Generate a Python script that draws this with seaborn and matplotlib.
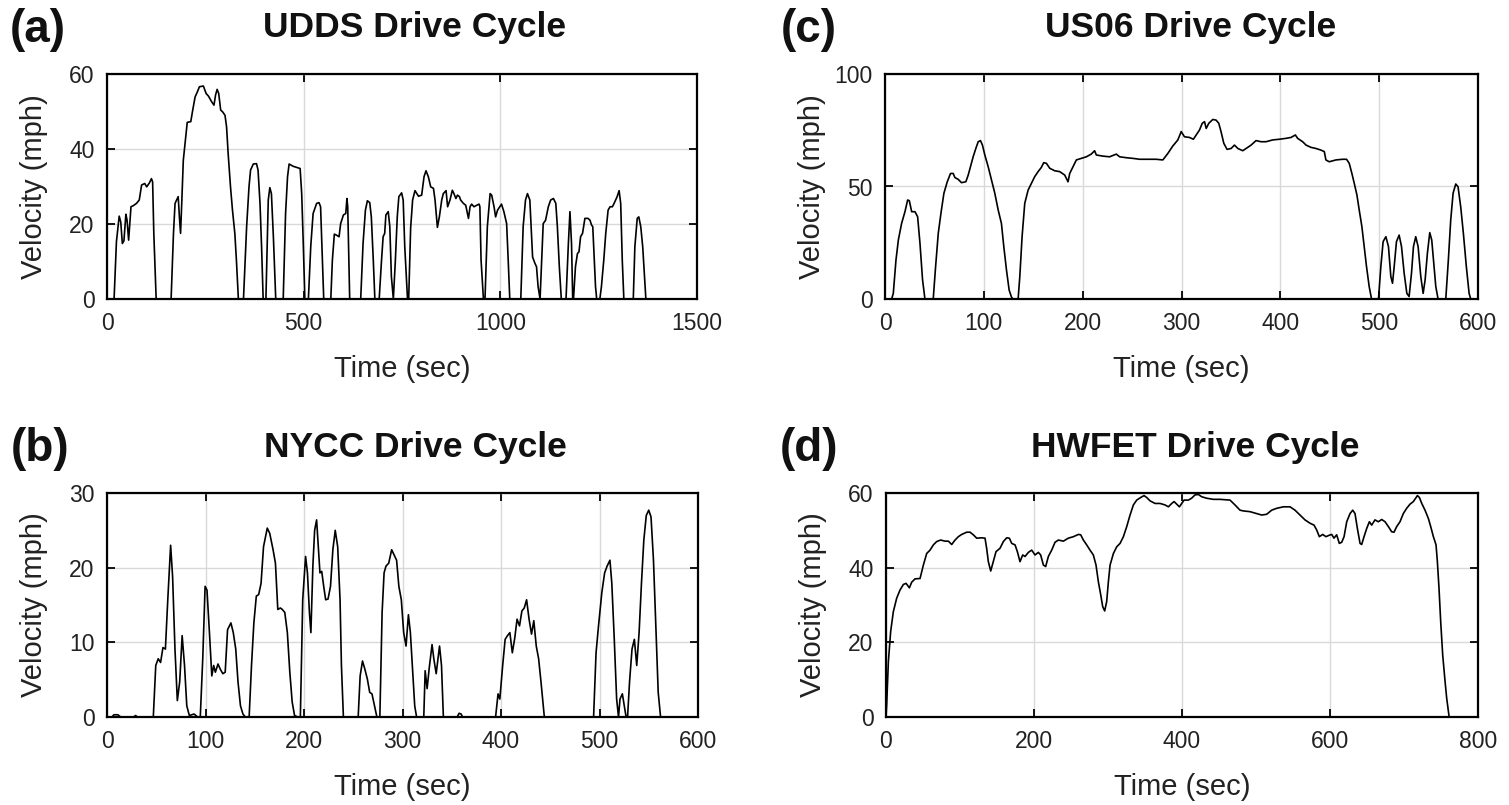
import matplotlib
matplotlib.use('Agg')
import matplotlib.pyplot as plt
import pandas as pd
import seaborn as sns

# ---------------- data ----------------
udds_t = [0, 18, 20, 24, 31, 35, 39, 43, 48, 51, 55, 61, 67, 75, 82, 88, 96, 101, 108, 113, 116, 119, 125,
          163, 169, 173, 177, 181, 184, 187, 190, 194, 201, 204, 213, 218, 224, 230, 235, 245, 252, 258, 266,
          272, 276, 280, 284, 289, 294, 300, 304, 308, 314, 319, 325, 329, 334,
          347, 355, 361, 365, 372, 380, 384, 389, 393, 397, 404, 410, 414, 418, 423, 429,
          448, 454, 459, 463, 473, 482, 491, 495, 499, 503, 512, 518, 524, 533, 539, 543, 547, 551,
          569, 573, 578, 584, 590, 594, 601, 607, 610, 612, 615, 617, 645, 651, 657, 662, 668, 672, 677, 681,
          692, 698, 702, 706, 709, 715, 719, 723, 728, 733, 738, 742, 749, 753, 757, 764, 767, 772, 777, 783,
          792, 800, 806, 811, 817, 823, 830, 834, 840, 845, 851, 855, 862, 866, 872, 878, 882, 887, 891, 896,
          899, 906, 912, 919, 923, 927, 933, 940, 946, 948, 951, 957, 961, 967, 974, 978, 984, 988, 993, 1003,
          1009, 1016, 1020, 1024, 1052, 1058, 1064, 1069, 1075, 1079, 1082, 1088, 1092, 1096, 1101, 1109, 1115,
          1122, 1128, 1135, 1141, 1145, 1150, 1155, 1167, 1173, 1177, 1181, 1184, 1186, 1191, 1196, 1200, 1204,
          1209, 1215, 1223, 1228, 1232, 1235, 1239, 1242, 1245, 1253, 1257, 1263, 1268, 1274, 1279, 1285, 1291,
          1297, 1302, 1306, 1310, 1314, 1338, 1342, 1348, 1352, 1357, 1362, 1366, 1370]
udds_v = [0, 0, 5, 15.3, 22.1, 20.5, 14.8, 15.5, 22.6, 21, 15.7, 24.6, 24.9, 25.5, 26.4, 30.4, 30.8, 29.9, 31, 32.1, 31.2, 17.5, 0,
          0, 17.5, 25.5, 26.4, 27.3, 22, 17.5, 25.5, 37, 44.1, 47.1, 47.3, 50.4, 53.9, 55.3, 56.6, 56.8, 54.8, 54.1, 52.6,
          51.7, 54.4, 55.9, 54.8, 50.4, 49.9, 49, 45.9, 38.8, 29.9, 23.7, 17.5, 10.4, 0,
          0, 19.3, 29.9, 34.4, 36, 36.1, 34.4, 25.5, 13.9, 0, 0, 26.4, 29.7, 28.1, 16.6, 0,
          0, 22.8, 32.6, 36, 35.4, 35.1, 34.8, 28.1, 14.8, 0, 0, 14, 22.8, 25.5, 25.7, 24.6, 12.1, 0,
          0, 10.4, 17.3, 17, 16.6, 20.1, 22.4, 22.8, 26.8, 24.6, 10.4, 0, 0, 14.8, 23.7, 26.2, 25.7, 21.9, 10.4, 0,
          0, 10.4, 16.6, 17.5, 22.4, 23.3, 19.3, 6, 0, 10, 22, 27.3, 28.3, 26.4, 14, 0, 0, 19, 26.4, 28.9,
          27.4, 27.7, 32.6, 34.2, 32.6, 29.9, 29.5, 26.4, 19.1, 21.9, 26.4, 28.1, 28.9, 24.6, 26.4, 29, 28.1, 26.8, 27.7, 27.3,
          26.4, 25.5, 25, 21.5, 24.6, 25.3, 24.6, 25, 25.3, 24.6, 10.4, 0, 0, 19.3, 28.1, 27.7, 24.6, 21.9, 23.7, 25.3,
          23.3, 20.1, 10.4, 0, 0, 19.3, 26.4, 28.1, 26.4, 17.5, 11.2, 9.5, 8.6, 3.3, 0, 20.1, 21,
          24.6, 26.4, 26.8, 25.5, 19.3, 8.6, 0, 0, 14.8, 23.3, 14.8, 0, 0, 8.6, 12.1, 12.6, 16.6,
          17.5, 21.5, 21.5, 21, 19.7, 19.3, 10.4, 3.3, 0, 0, 3.3, 10.4, 17.5, 23.7, 24.6, 24.6, 25.9,
          27.3, 28.9, 25.5, 10.4, 0, 0, 13.9, 21.5, 21.9, 19.3, 13.9, 6.8, 0]

nycc_t = [0, 5, 7, 11, 14, 27, 29, 31, 47, 49.5, 52, 54.4, 56.8, 59.3, 61.7, 64.6, 66.6, 69, 71.4, 73.8, 76.3,
          78.7, 81, 83.6, 88.4, 92, 94.7, 97.2, 99.6, 101.5, 104, 106.4, 108.3, 110, 112.7, 115, 117.6, 120,
          122.4, 125.8, 128.2, 130.7, 133, 135.5, 138, 140.4, 144.3, 146.7, 149.1, 151.6, 154, 156.4, 158.9,
          162.7, 165.2, 168.6, 171, 173.4, 176, 178, 180.5, 183.1, 185.6, 188, 190.4, 193.8, 196.3, 198.7,
          201.6, 203.5, 205.5, 207, 209, 210.8, 212.8, 214.7, 216.2, 218, 220, 222, 224.4, 226.9, 229.3, 231.7,
          234.2, 236.6, 238, 240, 255, 257, 259.4, 261.8, 264.3, 266.7, 269, 271.6, 274, 277, 279.3, 281.3,
          283.2, 286, 289, 291.5, 294, 296.3, 298.8, 301.2, 303.6, 306, 308, 310.4, 312.4, 314.3, 321.6, 323,
          325, 327, 330, 331.8, 334.2, 337.6, 339.6, 341.5, 355.5, 357.5, 359.5, 361, 394.5, 397, 398.8, 401.7,
          404.2, 406.6, 409, 411.5, 414, 416.3, 418.8, 421.2, 423.6, 426, 428.5, 431, 433.3, 435.8, 438.2,
          440.6, 444, 494, 496.5, 499, 502.3, 505.2, 507.7, 510.6, 512.5, 515, 517.4, 519.3, 520.8, 523.2,
          525.6, 527, 528.5, 530.5, 533, 535.4, 537.8, 540.2, 542.6, 545, 547.5, 550, 552.3, 554.8, 557.2,
          559.6, 562, 598]
nycc_v = [0, 0, 0.3, 0.3, 0, 0, 0.2, 0, 0, 6.9, 7.8, 7.3, 9.3, 9.1, 15.7, 23, 18.8, 9.1, 2.2, 4.7, 10.9,
          6.9, 1.5, 0.2, 0.4, 0, 0, 7.8, 17.5, 17, 11.3, 5.5, 6.9, 6, 7.1, 6.4, 5.8, 6,
          11.7, 12.6, 11.3, 9.1, 4.7, 1.5, 0.4, 0, 0, 6.9, 12.6, 16.2, 16.4, 17.9, 22.8,
          25.3, 24.6, 22.4, 20.6, 14.4, 14.6, 14.4, 14, 11.3, 6, 2, 0.2, 0, 0, 15.7,
          21.5, 19.3, 14, 11.3, 20.2, 25, 26.4, 22.4, 19.3, 19.5, 17.5, 15.7, 15.8, 17.5, 22.4, 25,
          22.8, 15.7, 6.9, 0, 0, 5.5, 7.5, 6.4, 5.1, 3.3, 3.1, 1.5, 0, 0, 14, 19.3,
          20.2, 20.6, 22.4, 21.7, 21, 17.5, 15.7, 11.3, 9.5, 13.7, 11.3, 6, 1.5, 0, 0, 6.2,
          3.8, 6.4, 9.7, 7.8, 5.8, 9.5, 6.9, 0, 0, 0.5, 0.4, 0, 0, 3.1, 2.4, 6.9,
          10.4, 10.9, 11.3, 8.6, 10.6, 13.1, 12.2, 14.2, 14.6, 15.7, 13.1, 11.1, 12.9, 9.5, 7.8,
          4.7, 0, 0, 8.6, 12.2, 16.6, 19.3, 20.2, 21, 17.9, 10.4, 2.4, 0, 2.4, 3.1,
          1.1, 0, 0, 4.7, 9.1, 10.4, 6.9, 11.3, 17.9, 23.7, 27, 27.7, 26.8, 21, 12.2,
          3.3, 0, 0]

us06_t = [0, 6.7, 8.4, 11.1, 13.5, 16.8, 20.2, 22.9, 24.6, 27, 30.3, 33, 35.4, 38, 40.4, 48.8, 51.2, 53.9,
          56.6, 59.6, 63, 66.3, 69, 70.7, 74, 77.4, 81.8, 84.2, 86.5, 89.2, 91.9, 94.3, 96.6, 98.6, 101,
          104.4, 107.7, 111.1, 114.5, 117.8, 120.2, 122.9, 125.6, 128, 129.6, 134.7, 136.4, 138.7, 141.4,
          144.8, 148.1, 151.5, 154.9, 158.2, 160.6, 163.3, 166.7, 171.7, 176.8, 181.8, 185.2, 186.9, 190.2,
          193.6, 198.6, 203.7, 208.7, 212.1, 213.8, 220.5, 227.3, 234, 237.4, 244.1, 250.8, 257.6, 264.3,
          274.4, 281.1, 286.2, 291.2, 296.3, 299.7, 303, 308.1, 312, 318.2, 321, 323.3, 325, 327.6, 331.7,
          335, 337.7, 340, 342.8, 346.1, 350.2, 353.6, 357, 362, 365.3, 370.4, 375.4, 380.5, 385.5, 392.3,
          399, 405.7, 410.8, 415.2, 417.5, 422.6, 426, 431, 436, 441, 444.5, 446.1, 449.5, 456.2, 463, 467,
          469.7, 472.4, 474.8, 477.5, 479.8, 482.5, 484.9, 487.2, 489.9, 492.3, 499.3, 501.7, 504, 506.8,
          509.4, 511.8, 513.5, 515.2, 517.5, 520.2, 522.6, 525.3, 528, 530.3, 532.7, 534.7, 537, 539.4,
          542.1, 544.5, 546.5, 548.8, 551.2, 553.2, 555.6, 557.3, 559.6, 567.4, 570, 572.4, 574.8, 577.5,
          579.8, 582.5, 585.2, 588.2, 591, 592.6, 600]
us06_v = [0, 0, 2.5, 17.3, 26.2, 33.6, 38.8, 44, 43.7, 38.8, 38.8, 36.6, 24.7, 8.5, 0, 0, 14.4, 29.2,
          38.1, 47, 52.1, 55.8, 55.8, 54, 53.2, 51.7, 52.1, 55.1, 58.8, 63.2, 66.9, 69.9, 70.4, 68.4, 64,
          58.8, 52.9, 47, 39.6, 33.6, 23.3, 12.9, 4, 0.8, 0, 0, 10, 27.7, 42.5,
          48.4, 51.4, 54.4, 56.6, 58.5, 60.6, 60.3, 58.1, 57, 56.6, 55.1, 52.1, 55.8, 58.8,
          61.8, 62.5, 63.2, 64.4, 65.9, 64, 63.5, 63.2, 64.4, 63.2, 62.8, 62.5, 62.1, 62.1,
          62.1, 61.8, 64.7, 68, 70.7, 74.4, 72.1, 71.8, 71, 75.1, 78.1, 78.8, 75.8, 78.1, 79.8,
          79.5, 78.1, 74.4, 69.2, 66.5, 66.9, 68.4, 66.9, 65.9, 66.9, 68.4, 70.4, 69.9, 69.9, 70.7,
          71, 71.4, 71.8, 72.9, 71.4, 69.9, 68.4, 67.4, 66.9, 66.2, 65.5, 61.8, 61, 61.8, 62.1, 62.1,
          60.3, 55.8, 51.4, 46.2, 39.6, 32.2, 23.3, 14.4, 5.5, 0, 0, 14.4, 25.5, 27.7,
          23.3, 10, 7, 14.4, 25.5, 28.4, 23.3, 11.4, 2.5, 1.1, 11.4, 23.3, 27.7, 23.3,
          10, 2.5, 8.5, 20.3, 29.5, 26.2, 14.4, 5.5, 0, 0, 17.3, 35.1, 47, 51.1,
          49.9, 41, 29.2, 14.4, 2.5, 0, 0]

hwfet_t = [0, 0.9, 3.2, 6.3, 9.9, 14.4, 18.9, 23.5, 27.1, 31.6, 34.7, 39.2, 46, 50.5, 55, 59.5, 64, 68.5,
           73.9, 79.8, 84.3, 88.8, 93.3, 97.8, 102.3, 109, 113.6, 118, 122.6, 129.3, 133.8, 136, 138.3,
           141.5, 145, 148.7, 154.1, 158.6, 163.1, 166.7, 169.9, 174.4, 177.5, 181.1, 184.7, 187.9, 192.4,
           196.9, 201.4, 205.9, 209, 212.7, 215.8, 219.4, 223.9, 228.4, 232.9, 239.7, 246.4, 253.2, 260,
           263.1, 266.7, 271.2, 275.7, 280.2, 283.8, 287, 290.2, 292.8, 295.5, 298.2, 300.5, 302.8, 307.3,
           311.8, 316.3, 320.8, 325.3, 329.8, 334.3, 338.8, 344.2, 348.7, 352.3, 356.8, 363.6, 370.3, 377.1,
           381.6, 386.1, 389.3, 392.9, 396.5, 399.6, 402.8, 408.6, 413, 417.6, 422.1, 426.6, 433.3, 442.4,
           451.4, 464.9, 471.6, 478.4, 482.9, 491.9, 500.9, 507.7, 514.4, 521.2, 528, 537, 546, 552.7, 559.5,
           566.2, 573, 578.4, 582, 585.6, 590.1, 594.6, 599.1, 602.3, 605.4, 609, 612.6, 615.8, 619, 622.6,
           627.1, 630.7, 633.8, 637, 640.6, 642.8, 646, 649.6, 653.2, 656.3, 660.8, 665.3, 669.9, 674.4,
           678.9, 683.4, 686.5, 690.1, 694.6, 699.1, 703.6, 708.1, 712.6, 718.1, 720.8, 724, 728.4, 732.9,
           736.1, 739.7, 743.3, 745.1, 747.3, 749.6, 752.3, 755.5, 757.7, 761, 765]
hwfet_v = [0, 3.2, 14.8, 22.9, 28.2, 31.8, 34, 35.5, 35.8, 34.6, 36.1, 37, 37.1, 40.7, 43.8, 44.7, 46.1, 47,
           47.4, 47.1, 47.1, 46.2, 47.4, 48.3, 48.9, 49.5, 49.5, 48.8, 47.9, 48, 47.9, 45.2, 41.6,
           39.1, 41.6, 44.3, 45.2, 47, 48, 47.9, 46.5, 46.1, 44.3, 41.6, 43.4, 43, 44.1,
           44.7, 43.4, 44.1, 43.4, 40.7, 40.3, 43, 44.7, 46.8, 47.4, 47.1, 47.9, 48.3, 48.9,
           48.8, 47.4, 46.1, 44.7, 43.4, 40.7, 36.2, 32.7, 29.6, 28.4, 30.9, 36.2, 40.7, 43.8,
           45.6, 46.5, 48.3, 51, 54.1, 56.8, 58.1, 58.8, 59.3, 58.8, 57.9, 57.2, 57.2, 56.8,
           56.3, 57.2, 57.7, 57, 56.3, 57.2, 58.1, 58.1, 58.6, 59.5, 59.6, 59, 58.6, 58.3,
           58.3, 58.1, 56.8, 55.4, 55.2, 55, 54.5, 54.1, 54.3, 55.4, 55.9, 56.3, 56.3, 55.4, 54.1,
           52.8, 51.9, 51.4, 50.1, 48.3, 48.9, 48.3, 48.7, 48.9, 47.9, 48.8, 46.5, 46.8, 48.3, 52.3,
           54.5, 55.4, 54.5, 50.5, 46.5, 46.2, 48.3, 50.5, 52.3, 51.4, 52.8, 52.3, 52.9, 52.3,
           51, 49.6, 49.5, 51, 52.3, 54.5, 55.9, 57, 57.7, 59.3, 58.8, 57.2, 55.4, 53.2,
           51, 48.3, 46.1, 41.6, 34.5, 25.5, 16.6, 9.5, 5, 0, 0]

udds_xticks = [0, 500, 1000, 1500]
udds_yticks = [0, 20, 40, 60]
nycc_xticks = [0, 100, 200, 300, 400, 500, 600]
nycc_yticks = [0, 10, 20, 30]
us06_xticks = [0, 100, 200, 300, 400, 500, 600]
us06_yticks = [0, 50, 100]
hwfet_xticks = [0, 200, 400, 600, 800]
hwfet_yticks = [0, 20, 40, 60]

titles = ['UDDS Drive Cycle', 'NYCC Drive Cycle', 'US06 Drive Cycle', 'HWFET Drive Cycle']
panel_labels = ['(a)', '(b)', '(c)', '(d)']
x_label = 'Time (sec)'
y_label = 'Velocity (mph)'

# ---------------- style ----------------
sns.set_theme(style='whitegrid')
plt.rcParams['font.family'] = ['Liberation Sans', 'DejaVu Sans']

W, H = 1509, 805
fig = plt.figure(figsize=(W / 100, H / 100), dpi=100)
fig.patch.set_facecolor('white')


def px_rect(l, t, r, b):
    return [l / W, 1 - b / H, (r - l) / W, (b - t) / H]


panels = [
    dict(rect=(107, 74, 697, 299), t=udds_t, v=udds_v, xt=udds_xticks, yt=udds_yticks,
         title=titles[0], lab=panel_labels[0], tpos=(415, 28), lpos=(38, 30)),
    dict(rect=(107, 493, 698, 717), t=nycc_t, v=nycc_v, xt=nycc_xticks, yt=nycc_yticks,
         title=titles[1], lab=panel_labels[1], tpos=(415, 447), lpos=(40, 449)),
    dict(rect=(885, 74, 1478, 299), t=us06_t, v=us06_v, xt=us06_xticks, yt=us06_yticks,
         title=titles[2], lab=panel_labels[2], tpos=(1191, 28), lpos=(809, 30)),
    dict(rect=(886, 493, 1478, 717), t=hwfet_t, v=hwfet_v, xt=hwfet_xticks, yt=hwfet_yticks,
         title=titles[3], lab=panel_labels[3], tpos=(1195, 447), lpos=(809, 449)),
]

for p in panels:
    ax = fig.add_axes(px_rect(*p['rect']))
    df = pd.DataFrame({x_label: p['t'], y_label: p['v']})
    sns.lineplot(data=df, x=x_label, y=y_label, ax=ax, color='black',
                 linewidth=1.2, estimator=None, sort=False)
    ax.set_xlim(p['xt'][0], p['xt'][-1])
    ax.set_ylim(p['yt'][0], p['yt'][-1])
    ax.set_xticks(p['xt'])
    ax.set_yticks(p['yt'])
    ax.set_facecolor('white')
    ax.set_axisbelow(True)
    ax.grid(True, color='#d9d9d9', linewidth=1.0)
    ax.tick_params(direction='in', top=True, right=True, bottom=True, left=True,
                   length=6, width=1.3, color='black', labelcolor='#222222',
                   labelsize=16.5, pad=9)
    for s in ax.spines.values():
        s.set_visible(True)
        s.set_color('black')
        s.set_linewidth(1.6)
    ax.set_xlabel(x_label, fontsize=21, color='#222222')
    ax.set_ylabel(y_label, fontsize=21, color='#222222')
    ax.xaxis.set_label_coords(0.5, -0.25)
    ax.yaxis.set_label_coords(-0.10, 0.5)
    fig.text(p['tpos'][0] / W, 1 - p['tpos'][1] / H, p['title'], ha='center', va='center',
             fontsize=25.5, fontweight='bold', color='#111111')
    fig.text(p['lpos'][0] / W, 1 - p['lpos'][1] / H, p['lab'], ha='center', va='center',
             fontsize=33, fontweight='bold', color='#111111')

fig.savefig('out.png', dpi=100, facecolor='white')
